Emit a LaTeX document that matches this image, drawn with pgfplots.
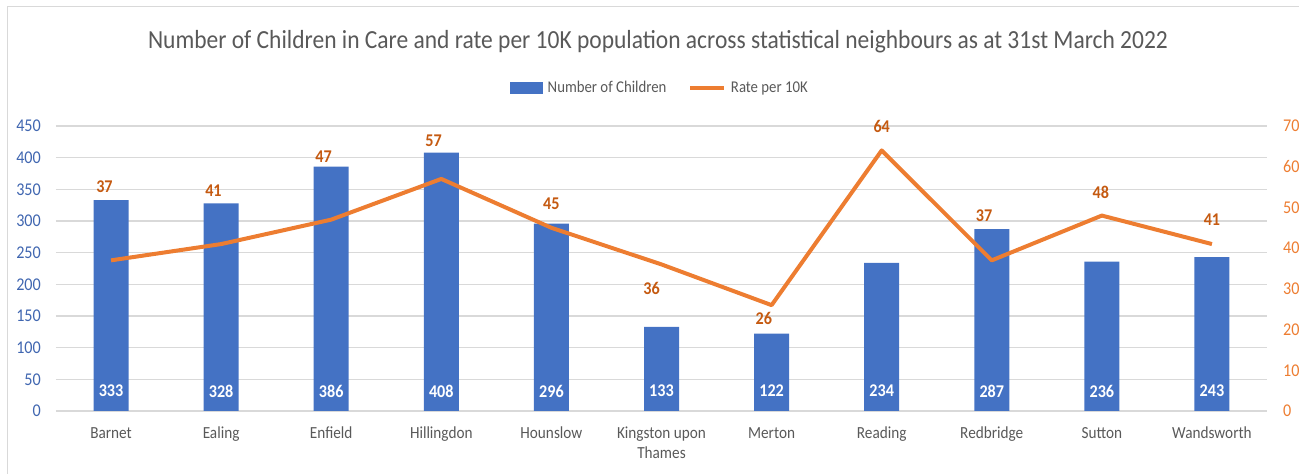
\documentclass[border=0pt]{standalone}
\usepackage{fontspec}
\setmainfont{Carlito}[FakeStretch=0.9]
\usepackage{pgfplots}
\pgfplotsset{compat=1.18}
\usepackage{pgfplotstable}
\definecolor{barblue}{HTML}{4472C4}
\definecolor{lineorange}{HTML}{ED7D31}
\definecolor{labelorange}{HTML}{C55A11}
\definecolor{txtgrey}{HTML}{595959}
\definecolor{gridgrey}{HTML}{D9D9D9}
\definecolor{tickblue}{HTML}{4066B0}

\pgfplotstableread{
x  n   rate lx    ly
0  333 37   -0.06 55.0
1  328 41   0.93  54.0
2  386 47   1.93  62.4
3  408 57   2.93  66.3
4  296 45   4.00  50.8
5  133 36   4.91  30.2
6  122 26   5.93  22.8
7  234 64   7.00  69.8
8  287 37   7.93  47.9
9  236 48   8.99  53.8
10 243 41   10.00 46.9
}\data

\begin{document}
\begin{tikzpicture}
\useasboundingbox (0,0) rectangle (1299bp,474bp);
\draw[gridgrey, line width=1bp] (7bp,0) -- (7bp,467bp) -- (1299bp,467bp);
\node[font=\fontsize{26.2}{30}\selectfont, text=txtgrey] at (658bp,432bp)
  {Number of Children in Care and rate per 10K population across statistical neighbours as at 31st March 2022};

\begin{axis}[
  at={(56bp,63bp)}, anchor=south west,
  scale only axis, width=1211bp, height=285bp,
  xmin=-0.5, xmax=10.5, ymin=0, ymax=450,
  xtick={0,...,10},
  xticklabels={Barnet,Ealing,Enfield,Hillingdon,Hounslow,{Kingston upon\\Thames},Merton,Reading,Redbridge,Sutton,Wandsworth},
  ytick={0,50,...,450},
  ymajorgrids, grid style={gridgrey, line width=1.2bp},
  axis line style={draw=none},
  major tick length=0pt,
  /pgf/number format/assume math mode=true,
  xticklabel style={align=center, anchor=north, inner sep=0pt, yshift=-16bp,
    text=txtgrey, font=\fontsize{17}{20}\selectfont},
  yticklabel style={anchor=east, inner sep=0pt, xshift=-15bp,
    text=tickblue, font=\fontsize{18}{20}\selectfont},
  clip=false,
]
\addplot[ybar, bar width=35bp, bar shift=0pt, fill=barblue, draw=none] table[x=x, y=n]{\data};
\addplot[draw=none, mark=none, nodes near coords, point meta=explicit,
  nodes near coords style={anchor=center, yshift=20bp, text=white, font=\bfseries\fontsize{18}{20}\selectfont}]
  table[x=x, y expr=0, meta=n]{\data};
\end{axis}

\begin{axis}[
  at={(56bp,63bp)}, anchor=south west,
  scale only axis, width=1211bp, height=285bp,
  xmin=-0.5, xmax=10.5, ymin=0, ymax=70,
  ytick={0,10,...,70},
  axis y line*=right, hide x axis,
  axis line style={draw=none},
  major tick length=0pt,
  /pgf/number format/assume math mode=true,
  yticklabel style={anchor=west, inner sep=0pt, xshift=16bp,
    text=lineorange, font=\fontsize{18}{20}\selectfont},
  clip=false,
  legend columns=2,
  legend style={at={(0.4988,1)}, anchor=center, yshift=38bp, draw=none, fill=none,
    font=\fontsize{16.5}{18}\selectfont, text=txtgrey, inner sep=0pt,
    nodes={inner sep=2bp},
    /tikz/every odd column/.append style={column sep=3bp},
    /tikz/every even column/.append style={column sep=20bp}},
]
\addlegendimage{legend image code/.code={\fill[barblue] (0bp,-5.5bp) rectangle (32bp,5.5bp);}}
\addlegendentry{Number of Children}
\addplot[lineorange, line width=4bp, mark=none, line join=round,
  legend image code/.code={\draw[lineorange, line width=3.5bp] (0bp,0bp) -- (34bp,0bp);}]
  table[x=x, y=rate]{\data};
\addlegendentry{Rate per 10K}
\addplot[forget plot, draw=none, mark=none, nodes near coords, point meta=explicit,
  nodes near coords style={anchor=center, text=labelorange, font=\bfseries\fontsize{18}{20}\selectfont}]
  table[x=lx, y=ly, meta=rate]{\data};
\end{axis}
\end{tikzpicture}
\end{document}
